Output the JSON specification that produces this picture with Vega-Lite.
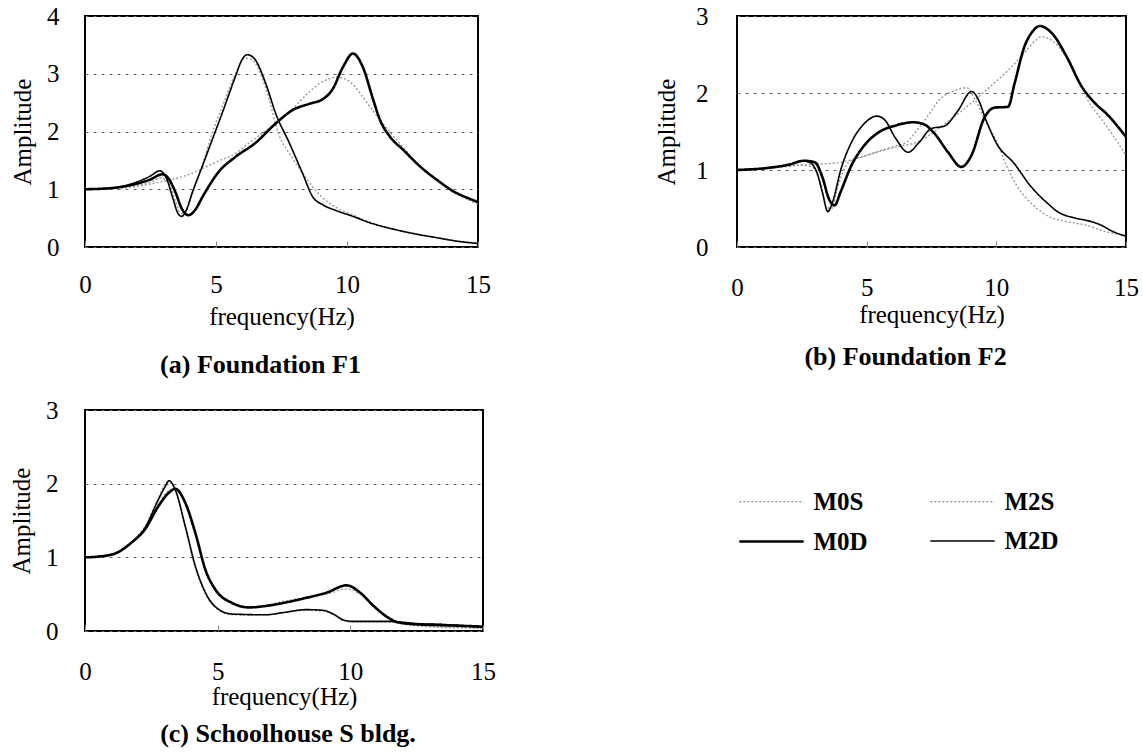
{
  "$schema": "https://vega.github.io/schema/vega-lite/v6.json",
  "padding": {"left": 8, "top": 3, "right": 5, "bottom": 5},
  "background": "white",
  "config": {
    "font": "Liberation Serif",
    "view": {"stroke": "#000", "strokeWidth": 2},
    "axis": {"domain": false, "labelFont": "Liberation Serif", "labelFontSize": 25, "labelColor": "#000", "titleFont": "Liberation Serif", "titleFontSize": 25, "titleFontWeight": "normal", "titleColor": "#000", "gridColor": "#666", "gridDash": [3, 5], "gridWidth": 1},
    "axisX": {"grid": false, "tickSize": -6, "tickColor": "#888", "tickWidth": 1, "labelFlush": false},
    "axisY": {"grid": true, "ticks": false},
    "legend": {"labelFont": "Liberation Serif", "labelFontSize": 25, "labelFontWeight": "bold", "labelColor": "#000", "symbolType": "M-1.3,0L1.3,0", "symbolSize": 2446, "labelOffset": 15.5, "columnPadding": 59, "rowPadding": 0, "padding": 0}
  },
  "datasets": {
    "fA": [
      {"s":"M0D","f":0,"amp":1.0},{"s":"M0D","f":1.0,"amp":1.02},{"s":"M0D","f":1.5,"amp":1.05},{"s":"M0D","f":2.0,"amp":1.1},{"s":"M0D","f":2.5,"amp":1.17},{"s":"M0D","f":2.95,"amp":1.26},{"s":"M0D","f":3.2,"amp":1.18},{"s":"M0D","f":3.45,"amp":0.95},{"s":"M0D","f":3.7,"amp":0.66},{"s":"M0D","f":3.95,"amp":0.55},{"s":"M0D","f":4.2,"amp":0.64},{"s":"M0D","f":4.5,"amp":0.88},{"s":"M0D","f":5.1,"amp":1.3},{"s":"M0D","f":5.74,"amp":1.56},{"s":"M0D","f":6.5,"amp":1.8},{"s":"M0D","f":7.28,"amp":2.14},{"s":"M0D","f":7.92,"amp":2.37},{"s":"M0D","f":8.56,"amp":2.48},{"s":"M0D","f":9.08,"amp":2.56},{"s":"M0D","f":9.46,"amp":2.74},{"s":"M0D","f":9.85,"amp":3.12},{"s":"M0D","f":10.23,"amp":3.35},{"s":"M0D","f":10.6,"amp":3.12},{"s":"M0D","f":11.0,"amp":2.55},{"s":"M0D","f":11.26,"amp":2.2},{"s":"M0D","f":11.64,"amp":1.91},{"s":"M0D","f":12.15,"amp":1.68},{"s":"M0D","f":12.8,"amp":1.39},{"s":"M0D","f":13.44,"amp":1.16},{"s":"M0D","f":14.08,"amp":0.96},{"s":"M0D","f":14.6,"amp":0.85},{"s":"M0D","f":15,"amp":0.78},
      {"s":"M2D","f":0,"amp":1.0},{"s":"M2D","f":1.0,"amp":1.02},{"s":"M2D","f":1.5,"amp":1.06},{"s":"M2D","f":2.0,"amp":1.13},{"s":"M2D","f":2.5,"amp":1.23},{"s":"M2D","f":2.85,"amp":1.32},{"s":"M2D","f":3.1,"amp":1.2},{"s":"M2D","f":3.35,"amp":0.85},{"s":"M2D","f":3.55,"amp":0.58},{"s":"M2D","f":3.69,"amp":0.53},{"s":"M2D","f":3.85,"amp":0.62},{"s":"M2D","f":4.1,"amp":0.95},{"s":"M2D","f":4.47,"amp":1.39},{"s":"M2D","f":4.85,"amp":1.85},{"s":"M2D","f":5.23,"amp":2.31},{"s":"M2D","f":5.74,"amp":2.95},{"s":"M2D","f":6.0,"amp":3.25},{"s":"M2D","f":6.19,"amp":3.33},{"s":"M2D","f":6.45,"amp":3.27},{"s":"M2D","f":6.9,"amp":2.83},{"s":"M2D","f":7.28,"amp":2.31},{"s":"M2D","f":7.8,"amp":1.8},{"s":"M2D","f":8.3,"amp":1.28},{"s":"M2D","f":8.69,"amp":0.87},{"s":"M2D","f":9.08,"amp":0.73},{"s":"M2D","f":9.59,"amp":0.63},{"s":"M2D","f":10.23,"amp":0.53},{"s":"M2D","f":10.87,"amp":0.42},{"s":"M2D","f":11.5,"amp":0.34},{"s":"M2D","f":12.15,"amp":0.27},{"s":"M2D","f":12.8,"amp":0.21},{"s":"M2D","f":13.44,"amp":0.16},{"s":"M2D","f":14.2,"amp":0.1},{"s":"M2D","f":15,"amp":0.06},
      {"s":"M0S","f":0,"amp":1.0},{"s":"M0S","f":1.0,"amp":1.01},{"s":"M0S","f":2.0,"amp":1.05},{"s":"M0S","f":2.5,"amp":1.09},{"s":"M0S","f":3.0,"amp":1.14},{"s":"M0S","f":3.5,"amp":1.19},{"s":"M0S","f":4.0,"amp":1.26},{"s":"M0S","f":4.5,"amp":1.36},{"s":"M0S","f":5.0,"amp":1.47},{"s":"M0S","f":5.74,"amp":1.62},{"s":"M0S","f":6.26,"amp":1.8},{"s":"M0S","f":7.0,"amp":2.05},{"s":"M0S","f":7.5,"amp":2.22},{"s":"M0S","f":8.05,"amp":2.45},{"s":"M0S","f":8.5,"amp":2.66},{"s":"M0S","f":8.95,"amp":2.83},{"s":"M0S","f":9.3,"amp":2.91},{"s":"M0S","f":9.6,"amp":2.94},{"s":"M0S","f":9.97,"amp":2.9},{"s":"M0S","f":10.3,"amp":2.78},{"s":"M0S","f":10.6,"amp":2.6},{"s":"M0S","f":11.26,"amp":2.2},{"s":"M0S","f":12.0,"amp":1.8},{"s":"M0S","f":12.8,"amp":1.4},{"s":"M0S","f":13.44,"amp":1.15},{"s":"M0S","f":14.08,"amp":0.94},{"s":"M0S","f":14.6,"amp":0.82},{"s":"M0S","f":15,"amp":0.74},
      {"s":"M2S","f":0,"amp":1.0},{"s":"M2S","f":1.0,"amp":1.01},{"s":"M2S","f":2.0,"amp":1.07},{"s":"M2S","f":2.5,"amp":1.12},{"s":"M2S","f":2.9,"amp":1.2},{"s":"M2S","f":3.2,"amp":1.1},{"s":"M2S","f":3.45,"amp":0.8},{"s":"M2S","f":3.65,"amp":0.58},{"s":"M2S","f":3.85,"amp":0.62},{"s":"M2S","f":4.1,"amp":0.92},{"s":"M2S","f":4.5,"amp":1.45},{"s":"M2S","f":4.85,"amp":1.97},{"s":"M2S","f":5.3,"amp":2.5},{"s":"M2S","f":5.74,"amp":3.0},{"s":"M2S","f":6.1,"amp":3.27},{"s":"M2S","f":6.35,"amp":3.25},{"s":"M2S","f":6.9,"amp":2.75},{"s":"M2S","f":7.4,"amp":1.95},{"s":"M2S","f":7.9,"amp":1.55},{"s":"M2S","f":8.4,"amp":1.22},{"s":"M2S","f":8.8,"amp":0.98},{"s":"M2S","f":9.2,"amp":0.8},{"s":"M2S","f":9.6,"amp":0.68},{"s":"M2S","f":10.2,"amp":0.56},{"s":"M2S","f":11.0,"amp":0.41},{"s":"M2S","f":12.0,"amp":0.28},{"s":"M2S","f":13.0,"amp":0.19},{"s":"M2S","f":14.0,"amp":0.12},{"s":"M2S","f":15,"amp":0.07}
    ],
    "fB": [
      {"s":"M0D","f":0,"amp":1.0},{"s":"M0D","f":1.26,"amp":1.03},{"s":"M0D","f":2.0,"amp":1.07},{"s":"M0D","f":2.6,"amp":1.12},{"s":"M0D","f":3.0,"amp":1.1},{"s":"M0D","f":3.3,"amp":0.9},{"s":"M0D","f":3.55,"amp":0.62},{"s":"M0D","f":3.76,"amp":0.54},{"s":"M0D","f":4.0,"amp":0.72},{"s":"M0D","f":4.4,"amp":1.05},{"s":"M0D","f":4.91,"amp":1.32},{"s":"M0D","f":5.42,"amp":1.48},{"s":"M0D","f":6.14,"amp":1.58},{"s":"M0D","f":6.8,"amp":1.62},{"s":"M0D","f":7.23,"amp":1.59},{"s":"M0D","f":7.6,"amp":1.48},{"s":"M0D","f":8.14,"amp":1.23},{"s":"M0D","f":8.65,"amp":1.04},{"s":"M0D","f":9.04,"amp":1.19},{"s":"M0D","f":9.54,"amp":1.68},{"s":"M0D","f":9.93,"amp":1.81},{"s":"M0D","f":10.45,"amp":1.82},{"s":"M0D","f":10.7,"amp":2.12},{"s":"M0D","f":11.08,"amp":2.6},{"s":"M0D","f":11.4,"amp":2.8},{"s":"M0D","f":11.67,"amp":2.87},{"s":"M0D","f":12.16,"amp":2.77},{"s":"M0D","f":12.73,"amp":2.46},{"s":"M0D","f":13.28,"amp":2.09},{"s":"M0D","f":13.74,"amp":1.89},{"s":"M0D","f":14.31,"amp":1.71},{"s":"M0D","f":15,"amp":1.43},
      {"s":"M2D","f":0,"amp":1.0},{"s":"M2D","f":1.26,"amp":1.03},{"s":"M2D","f":2.0,"amp":1.07},{"s":"M2D","f":2.5,"amp":1.12},{"s":"M2D","f":2.8,"amp":1.1},{"s":"M2D","f":3.1,"amp":0.95},{"s":"M2D","f":3.3,"amp":0.7},{"s":"M2D","f":3.5,"amp":0.46},{"s":"M2D","f":3.7,"amp":0.6},{"s":"M2D","f":4.0,"amp":1.0},{"s":"M2D","f":4.4,"amp":1.35},{"s":"M2D","f":4.9,"amp":1.6},{"s":"M2D","f":5.4,"amp":1.7},{"s":"M2D","f":5.7,"amp":1.65},{"s":"M2D","f":6.1,"amp":1.42},{"s":"M2D","f":6.6,"amp":1.23},{"s":"M2D","f":7.0,"amp":1.35},{"s":"M2D","f":7.5,"amp":1.54},{"s":"M2D","f":8.0,"amp":1.57},{"s":"M2D","f":8.5,"amp":1.76},{"s":"M2D","f":9.05,"amp":2.02},{"s":"M2D","f":9.3,"amp":1.92},{"s":"M2D","f":9.6,"amp":1.65},{"s":"M2D","f":10.0,"amp":1.35},{"s":"M2D","f":10.7,"amp":1.08},{"s":"M2D","f":11.3,"amp":0.8},{"s":"M2D","f":12.0,"amp":0.56},{"s":"M2D","f":12.4,"amp":0.45},{"s":"M2D","f":13.0,"amp":0.38},{"s":"M2D","f":13.66,"amp":0.33},{"s":"M2D","f":14.0,"amp":0.29},{"s":"M2D","f":14.5,"amp":0.2},{"s":"M2D","f":15,"amp":0.14},
      {"s":"M0S","f":0,"amp":1.0},{"s":"M0S","f":1.5,"amp":1.03},{"s":"M0S","f":2.5,"amp":1.07},{"s":"M0S","f":3.3,"amp":1.08},{"s":"M0S","f":4.0,"amp":1.1},{"s":"M0S","f":4.5,"amp":1.14},{"s":"M0S","f":5.0,"amp":1.19},{"s":"M0S","f":6.14,"amp":1.3},{"s":"M0S","f":7.0,"amp":1.37},{"s":"M0S","f":7.57,"amp":1.49},{"s":"M0S","f":8.29,"amp":1.67},{"s":"M0S","f":9.0,"amp":1.86},{"s":"M0S","f":9.72,"amp":2.07},{"s":"M0S","f":10.44,"amp":2.29},{"s":"M0S","f":11.16,"amp":2.55},{"s":"M0S","f":11.5,"amp":2.68},{"s":"M0S","f":11.73,"amp":2.73},{"s":"M0S","f":12.3,"amp":2.64},{"s":"M0S","f":12.8,"amp":2.4},{"s":"M0S","f":13.31,"amp":2.07},{"s":"M0S","f":13.54,"amp":1.9},{"s":"M0S","f":14.03,"amp":1.67},{"s":"M0S","f":14.5,"amp":1.45},{"s":"M0S","f":15,"amp":1.19},
      {"s":"M2S","f":0,"amp":1.0},{"s":"M2S","f":1.5,"amp":1.03},{"s":"M2S","f":2.5,"amp":1.06},{"s":"M2S","f":2.9,"amp":1.04},{"s":"M2S","f":3.2,"amp":0.85},{"s":"M2S","f":3.45,"amp":0.52},{"s":"M2S","f":3.65,"amp":0.5},{"s":"M2S","f":3.9,"amp":0.8},{"s":"M2S","f":4.3,"amp":1.1},{"s":"M2S","f":5.0,"amp":1.19},{"s":"M2S","f":5.6,"amp":1.26},{"s":"M2S","f":6.1,"amp":1.31},{"s":"M2S","f":6.57,"amp":1.37},{"s":"M2S","f":6.9,"amp":1.5},{"s":"M2S","f":7.29,"amp":1.67},{"s":"M2S","f":7.86,"amp":1.93},{"s":"M2S","f":8.4,"amp":2.03},{"s":"M2S","f":8.86,"amp":2.07},{"s":"M2S","f":9.2,"amp":1.9},{"s":"M2S","f":9.6,"amp":1.62},{"s":"M2S","f":10.0,"amp":1.38},{"s":"M2S","f":10.4,"amp":1.05},{"s":"M2S","f":10.8,"amp":0.79},{"s":"M2S","f":11.4,"amp":0.55},{"s":"M2S","f":12.0,"amp":0.4},{"s":"M2S","f":12.7,"amp":0.33},{"s":"M2S","f":13.5,"amp":0.28},{"s":"M2S","f":14.2,"amp":0.2},{"s":"M2S","f":15,"amp":0.15}
    ],
    "sC": [
      {"s":"M0D","f":0,"amp":1.0},{"s":"M0D","f":0.5,"amp":1.01},{"s":"M0D","f":1.12,"amp":1.05},{"s":"M0D","f":1.75,"amp":1.2},{"s":"M0D","f":2.26,"amp":1.38},{"s":"M0D","f":2.76,"amp":1.69},{"s":"M0D","f":3.14,"amp":1.87},{"s":"M0D","f":3.4,"amp":1.93},{"s":"M0D","f":3.78,"amp":1.74},{"s":"M0D","f":4.16,"amp":1.33},{"s":"M0D","f":4.54,"amp":0.83},{"s":"M0D","f":4.92,"amp":0.56},{"s":"M0D","f":5.55,"amp":0.38},{"s":"M0D","f":6.19,"amp":0.32},{"s":"M0D","f":6.82,"amp":0.34},{"s":"M0D","f":7.46,"amp":0.38},{"s":"M0D","f":8.34,"amp":0.45},{"s":"M0D","f":9.1,"amp":0.52},{"s":"M0D","f":9.86,"amp":0.62},{"s":"M0D","f":10.37,"amp":0.52},{"s":"M0D","f":10.88,"amp":0.34},{"s":"M0D","f":11.39,"amp":0.19},{"s":"M0D","f":11.77,"amp":0.12},{"s":"M0D","f":12.53,"amp":0.09},{"s":"M0D","f":13.4,"amp":0.08},{"s":"M0D","f":15,"amp":0.06},
      {"s":"M2D","f":0,"amp":1.0},{"s":"M2D","f":0.5,"amp":1.01},{"s":"M2D","f":1.12,"amp":1.05},{"s":"M2D","f":1.75,"amp":1.2},{"s":"M2D","f":2.26,"amp":1.4},{"s":"M2D","f":2.76,"amp":1.78},{"s":"M2D","f":3.02,"amp":1.96},{"s":"M2D","f":3.17,"amp":2.04},{"s":"M2D","f":3.4,"amp":1.92},{"s":"M2D","f":3.78,"amp":1.42},{"s":"M2D","f":4.16,"amp":0.88},{"s":"M2D","f":4.54,"amp":0.52},{"s":"M2D","f":5.05,"amp":0.29},{"s":"M2D","f":5.55,"amp":0.23},{"s":"M2D","f":6.82,"amp":0.22},{"s":"M2D","f":7.46,"amp":0.25},{"s":"M2D","f":8.34,"amp":0.29},{"s":"M2D","f":8.98,"amp":0.28},{"s":"M2D","f":9.36,"amp":0.23},{"s":"M2D","f":9.74,"amp":0.15},{"s":"M2D","f":10.12,"amp":0.13},{"s":"M2D","f":11.5,"amp":0.13},{"s":"M2D","f":12.53,"amp":0.1},{"s":"M2D","f":13.4,"amp":0.09},{"s":"M2D","f":15,"amp":0.05},
      {"s":"M0S","f":0,"amp":1.0},{"s":"M0S","f":1.12,"amp":1.05},{"s":"M0S","f":1.75,"amp":1.2},{"s":"M0S","f":2.26,"amp":1.4},{"s":"M0S","f":2.76,"amp":1.72},{"s":"M0S","f":3.14,"amp":1.9},{"s":"M0S","f":3.4,"amp":1.92},{"s":"M0S","f":3.78,"amp":1.72},{"s":"M0S","f":4.16,"amp":1.3},{"s":"M0S","f":4.54,"amp":0.8},{"s":"M0S","f":4.92,"amp":0.54},{"s":"M0S","f":5.55,"amp":0.37},{"s":"M0S","f":6.19,"amp":0.32},{"s":"M0S","f":6.82,"amp":0.35},{"s":"M0S","f":7.46,"amp":0.4},{"s":"M0S","f":8.34,"amp":0.46},{"s":"M0S","f":9.1,"amp":0.5},{"s":"M0S","f":9.86,"amp":0.57},{"s":"M0S","f":10.37,"amp":0.5},{"s":"M0S","f":10.88,"amp":0.33},{"s":"M0S","f":11.39,"amp":0.18},{"s":"M0S","f":11.77,"amp":0.11},{"s":"M0S","f":12.53,"amp":0.07},{"s":"M0S","f":13.4,"amp":0.05},{"s":"M0S","f":15,"amp":0.04},
      {"s":"M2S","f":0,"amp":1.0},{"s":"M2S","f":1.12,"amp":1.05},{"s":"M2S","f":1.75,"amp":1.2},{"s":"M2S","f":2.26,"amp":1.42},{"s":"M2S","f":2.76,"amp":1.8},{"s":"M2S","f":3.1,"amp":2.02},{"s":"M2S","f":3.3,"amp":1.98},{"s":"M2S","f":3.78,"amp":1.4},{"s":"M2S","f":4.16,"amp":0.85},{"s":"M2S","f":4.54,"amp":0.5},{"s":"M2S","f":5.05,"amp":0.28},{"s":"M2S","f":5.55,"amp":0.22},{"s":"M2S","f":6.82,"amp":0.22},{"s":"M2S","f":7.46,"amp":0.25},{"s":"M2S","f":8.34,"amp":0.28},{"s":"M2S","f":8.98,"amp":0.27},{"s":"M2S","f":9.36,"amp":0.22},{"s":"M2S","f":9.74,"amp":0.14},{"s":"M2S","f":10.12,"amp":0.12},{"s":"M2S","f":11.5,"amp":0.12},{"s":"M2S","f":12.53,"amp":0.08},{"s":"M2S","f":13.4,"amp":0.06},{"s":"M2S","f":15,"amp":0.04}
    ]
  },
  "columns": 2,
  "bounds": "flush",
  "spacing": {"row": 163, "column": 254},
  "resolve": {"scale": {"x": "independent", "y": "independent"}},
  "concat": [
    {
      "width": 393, "height": 231,
      "data": {"name": "fA"},
      "title": {"text": "(a) Foundation F1", "orient": "bottom", "anchor": "middle", "frame": "group", "offset": 23, "dx": -21, "font": "Liberation Serif", "fontSize": 26, "fontWeight": "bold", "color": "#000"},
      "encoding": {
        "x": {"field": "f", "type": "quantitative", "scale": {"domain": [0, 15], "nice": false, "zero": false}, "axis": {"values": [0, 5, 10, 15], "title": "frequency(Hz)", "labelPadding": 31, "titlePadding": 7}},
        "y": {"field": "amp", "type": "quantitative", "scale": {"domain": [0, 4], "nice": false}, "axis": {"values": [0, 1, 2, 3, 4], "title": "Amplitude", "labelPadding": 26, "titlePadding": 11}},
        "color": {"field": "s", "type": "nominal", "scale": {"domain": ["M0S", "M0D", "M2S", "M2D"], "range": ["#9a9a9a", "#000000", "#9a9a9a", "#000000"]}, "legend": {"title": null, "orient": "none", "legendX": 660, "legendY": 460, "columns": 2}},
        "strokeDash": {"field": "s", "type": "nominal", "scale": {"domain": ["M0S", "M0D", "M2S", "M2D"], "range": [[2, 2], [1, 0], [2, 2], [1, 0]]}, "legend": {"title": null}},
        "strokeWidth": {"field": "s", "type": "nominal", "scale": {"type": "ordinal", "domain": ["M0S", "M0D", "M2S", "M2D"], "range": [1.4, 2.6, 1.4, 1.6]}, "legend": {"title": null}}
      },
      "layer": [
        {"transform": [{"filter": "datum.s == 'M0S' || datum.s == 'M2S'"}], "mark": {"type": "line", "interpolate": "monotone"}},
        {"transform": [{"filter": "datum.s == 'M0D' || datum.s == 'M2D'"}], "mark": {"type": "line", "interpolate": "monotone"}}
      ]
    },
    {
      "width": 389, "height": 231,
      "data": {"name": "fB"},
      "title": {"text": "(b) Foundation F2", "orient": "bottom", "anchor": "middle", "frame": "group", "offset": 17, "dx": -26, "font": "Liberation Serif", "fontSize": 26, "fontWeight": "bold", "color": "#000"},
      "encoding": {
        "x": {"field": "f", "type": "quantitative", "scale": {"domain": [0, 15], "nice": false, "zero": false}, "axis": {"values": [0, 5, 10, 15], "title": "frequency(Hz)", "labelPadding": 34, "titlePadding": 2}},
        "y": {"field": "amp", "type": "quantitative", "scale": {"domain": [0, 3], "nice": false}, "axis": {"values": [0, 1, 2, 3], "title": "Amplitude", "labelPadding": 29, "titlePadding": 16}},
        "color": {"field": "s", "type": "nominal", "scale": {"domain": ["M0S", "M0D", "M2S", "M2D"], "range": ["#9a9a9a", "#000000", "#9a9a9a", "#000000"]}, "legend": {"title": null, "orient": "none", "legendX": 660, "legendY": 460, "columns": 2}},
        "strokeDash": {"field": "s", "type": "nominal", "scale": {"domain": ["M0S", "M0D", "M2S", "M2D"], "range": [[2, 2], [1, 0], [2, 2], [1, 0]]}, "legend": {"title": null}},
        "strokeWidth": {"field": "s", "type": "nominal", "scale": {"type": "ordinal", "domain": ["M0S", "M0D", "M2S", "M2D"], "range": [1.4, 2.6, 1.4, 1.6]}, "legend": {"title": null}}
      },
      "layer": [
        {"transform": [{"filter": "datum.s == 'M0S' || datum.s == 'M2S'"}], "mark": {"type": "line", "interpolate": "monotone"}},
        {"transform": [{"filter": "datum.s == 'M0D' || datum.s == 'M2D'"}], "mark": {"type": "line", "interpolate": "monotone"}}
      ]
    },
    {
      "width": 398, "height": 221,
      "data": {"name": "sC"},
      "title": {"text": "(c) Schoolhouse S bldg.", "orient": "bottom", "anchor": "middle", "frame": "group", "offset": 12, "dx": 4, "font": "Liberation Serif", "fontSize": 26, "fontWeight": "bold", "color": "#000"},
      "encoding": {
        "x": {"field": "f", "type": "quantitative", "scale": {"domain": [0, 15], "nice": false, "zero": false}, "axis": {"values": [0, 5, 10, 15], "title": "frequency(Hz)", "labelPadding": 34, "titlePadding": 0}},
        "y": {"field": "amp", "type": "quantitative", "scale": {"domain": [0, 3], "nice": false}, "axis": {"values": [0, 1, 2, 3], "title": "Amplitude", "labelPadding": 27, "titlePadding": 11}},
        "color": {"field": "s", "type": "nominal", "scale": {"domain": ["M0S", "M0D", "M2S", "M2D"], "range": ["#9a9a9a", "#000000", "#9a9a9a", "#000000"]}, "legend": {"title": null, "orient": "none", "legendX": 660, "legendY": 460, "columns": 2}},
        "strokeDash": {"field": "s", "type": "nominal", "scale": {"domain": ["M0S", "M0D", "M2S", "M2D"], "range": [[2, 2], [1, 0], [2, 2], [1, 0]]}, "legend": {"title": null}},
        "strokeWidth": {"field": "s", "type": "nominal", "scale": {"type": "ordinal", "domain": ["M0S", "M0D", "M2S", "M2D"], "range": [1.4, 2.6, 1.4, 1.6]}, "legend": {"title": null}}
      },
      "layer": [
        {"transform": [{"filter": "datum.s == 'M0S' || datum.s == 'M2S'"}], "mark": {"type": "line", "interpolate": "monotone"}},
        {"transform": [{"filter": "datum.s == 'M0D' || datum.s == 'M2D'"}], "mark": {"type": "line", "interpolate": "monotone"}}
      ]
    }
  ]
}
